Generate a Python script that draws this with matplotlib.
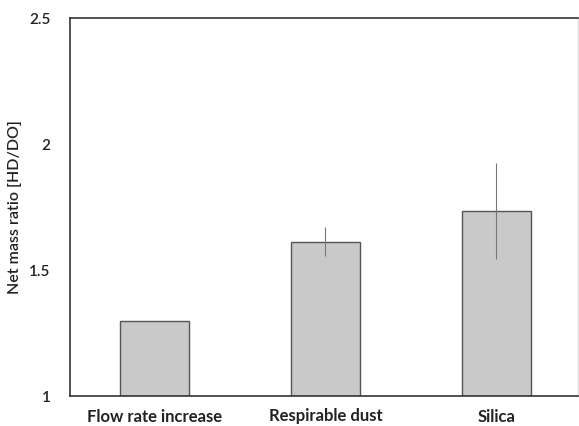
import matplotlib
matplotlib.use("Agg")
import matplotlib.pyplot as plt

categories = ["Flow rate increase", "Respirable dust", "Silica"]
ratios = [1.297, 1.613, 1.735]
errors = [0.0, 0.056, 0.19]
y_ticks = [1, 1.5, 2, 2.5]
y_tick_labels = ["1", "1.5", "2", "2.5"]

W, H = 579, 426
fig = plt.figure(figsize=(W / 100, H / 100), dpi=100)
ax = fig.add_axes([70 / W, 30 / H, (578 - 70) / W, (396 - 18) / H])

x = list(range(len(categories)))
ax.bar(x, [r - 1 for r in ratios], bottom=1, width=0.4, color="#c9c9c9",
       edgecolor="#555555", linewidth=1.0, zorder=2)
ax.errorbar(x[1:], ratios[1:], yerr=errors[1:], fmt="none", ecolor="#777777",
            elinewidth=0.8, capsize=0, zorder=3)

ax.set_xlim(-0.494, 2.477)
ax.set_ylim(1, 2.5)
ax.set_yticks(y_ticks)
ax.set_yticklabels(y_tick_labels, fontsize=11, family="Lato", fontweight="semibold")
ax.set_xticks(x)
ax.set_xticklabels(categories, fontsize=12, family="Lato", fontweight="bold")
ax.tick_params(axis="both", length=0, colors="#222222")
ax.tick_params(axis="x", pad=9)
ax.tick_params(axis="y", pad=14)
ax.set_ylabel("Net mass ratio [HD/DO]", fontsize=11.5, family="Lato",
              fontweight="semibold", color="#222222")
ax.yaxis.set_label_coords(-0.095, 0.5)

for side in ["left", "bottom", "top"]:
    ax.spines[side].set_color("#333333")
    ax.spines[side].set_linewidth(1.2)
ax.spines["right"].set_color("#dddddd")
ax.spines["right"].set_linewidth(1.0)

fig.savefig("out.png", dpi=100)
